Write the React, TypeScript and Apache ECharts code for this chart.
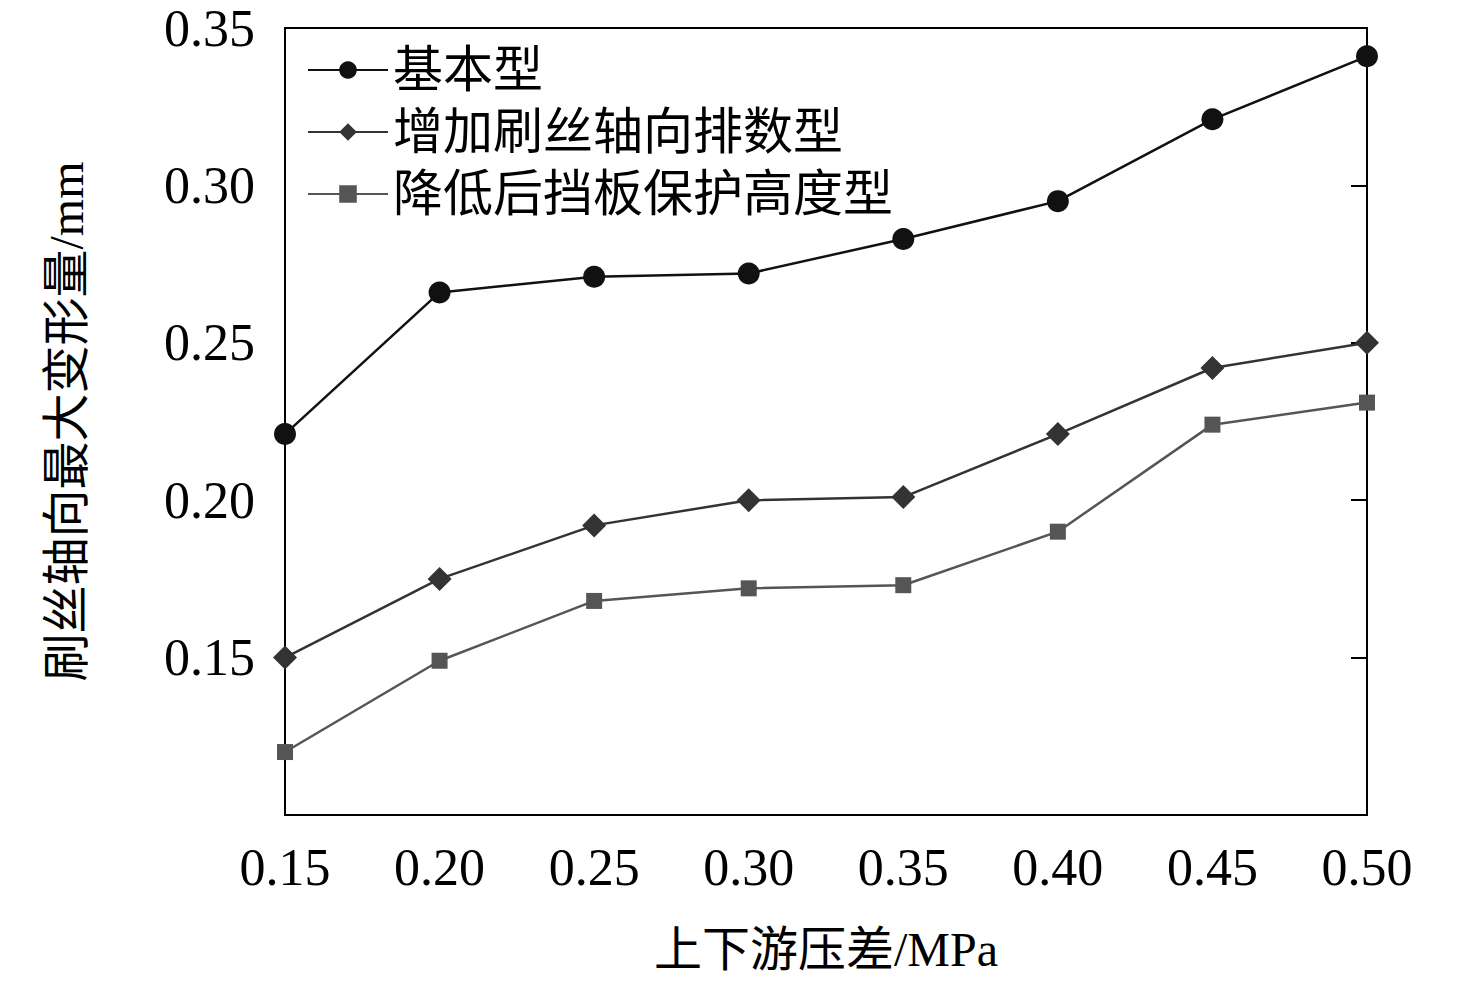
import React, { useEffect, useRef } from 'react';
import * as echarts from 'echarts';

const pressure = [0.15, 0.2, 0.25, 0.3, 0.35, 0.4, 0.45, 0.5];
const basic = [0.221, 0.266, 0.271, 0.272, 0.283, 0.295, 0.321, 0.341];
const moreRows = [0.15, 0.175, 0.192, 0.2, 0.201, 0.221, 0.242, 0.25];
const lowerPlate = [0.12, 0.149, 0.168, 0.172, 0.173, 0.19, 0.224, 0.231];
const names = ['基本型', '增加刷丝轴向排数型', '降低后挡板保护高度型'];

const font = '"Liberation Serif", "Noto Sans CJK SC", serif';

const App = () => {
  const ref = useRef(null);

  useEffect(() => {
    if (!ref.current) return;
    const chart = echarts.init(ref.current, null, { renderer: 'svg' });
    const pts = (vals) => pressure.map((x, i) => [x, vals[i]]);
    const line = (name, vals, symbol, size, color) => ({
      name,
      type: 'line',
      data: pts(vals),
      symbol,
      symbolSize: size,
      lineStyle: { color, width: 2.5 },
      itemStyle: { color },
    });
    chart.setOption({
      animation: false,
      grid: { left: 285, right: 109, top: 28, bottom: 178, show: true, borderColor: '#000', borderWidth: 2 },
      legend: {
        left: 302,
        top: 40,
        orient: 'vertical',
        itemGap: 12,
        itemWidth: 80,
        itemHeight: 22,
        textStyle: { fontFamily: font, fontSize: 50, color: '#000' },
        data: names,
      },
      xAxis: {
        type: 'value',
        min: 0.15,
        max: 0.5,
        interval: 0.05,
        name: '上下游压差/MPa',
        nameLocation: 'middle',
        nameGap: 110,
        nameTextStyle: { fontFamily: font, fontSize: 48, color: '#000' },
        axisLine: { lineStyle: { color: '#000', width: 2 } },
        axisTick: { show: false },
        splitLine: { show: false },
        axisLabel: { fontFamily: font, fontSize: 52, color: '#000', margin: 26, formatter: (v) => v.toFixed(2) },
      },
      yAxis: [
        {
          type: 'value',
          min: 0.1,
          max: 0.35,
          interval: 0.05,
          name: '刷丝轴向最大变形量/mm',
          nameLocation: 'middle',
          nameGap: 195,
          nameTextStyle: { fontFamily: font, fontSize: 48, color: '#000' },
          axisLine: { lineStyle: { color: '#000', width: 2 } },
          axisTick: { show: false },
          splitLine: { show: false },
          axisLabel: {
            fontFamily: font, fontSize: 52, color: '#000', margin: 30,
            formatter: (v) => (v < 0.12 ? '' : v.toFixed(2)),
          },
        },
        {
          type: 'value',
          position: 'right',
          min: 0.1,
          max: 0.35,
          interval: 0.05,
          axisLine: { show: true, lineStyle: { color: '#000', width: 2 } },
          axisTick: { show: true, inside: true, length: 16, lineStyle: { color: '#000', width: 2 } },
          axisLabel: { show: false },
          splitLine: { show: false },
        },
      ],
      series: [
        line(names[0], basic, 'circle', 22, '#111'),
        line(names[1], moreRows, 'diamond', 24, '#333'),
        line(names[2], lowerPlate, 'rect', 16, '#555'),
      ],
    });
    return () => chart.dispose();
  }, []);

  return <div ref={ref} style={{ width: 1476, height: 993, background: '#fff', margin: -8 }} />;
};

export default App;
